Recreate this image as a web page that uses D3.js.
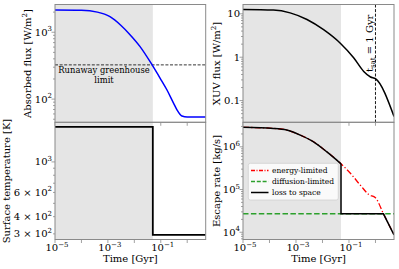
<!DOCTYPE html>
<meta charset="utf-8">
<script src="https://cdn.jsdelivr.net/npm/d3@7"></script>
<style>
body { margin: 0; background: #fff; }
text { font-family: "DejaVu Serif", serif; fill: #000; }
.spine { fill: none; stroke: #8a8a8a; stroke-width: 1; }
.tick { stroke: #8a8a8a; stroke-width: 0.8; }
</style>
<body>
<script>

// data
var timeDomain = [1e-5, 5];
var shadeEnd = 0.05;      // Gyr, grey region end
var tSat = 1;             // Gyr
var runawayLimit = 325;   // W/m2
var diffLimit = 2.7e4;    // kg/s

var fluxT    = [1e-5, 1e-4, 4e-4, 1.2e-3, 3e-3, 7e-3, 0.0165, 0.047, 0.095, 0.17, 0.3, 0.41, 0.63, 1.0, 5];
var fluxVals = [2150, 2130, 2000, 1710, 1285, 912, 610, 325, 205, 138, 88, 69, 56, 54, 54];

var xuvT    = [1e-5, 1.4e-4, 6e-4, 2.6e-3, 0.011, 0.047, 0.15, 0.36, 0.65, 1, 5];
var xuvVals = [12.6, 12.2, 10.5, 7.4, 4.3, 2.1, 0.97, 0.47, 0.35, 0.32, 0.043];

var tempT    = [1e-5, 0.05, 0.05, 5];
var tempVals = [1800, 1800, 295, 295];

var energyT    = [1e-5, 1.4e-4, 4.5e-4, 1.45e-3, 4.6e-3, 0.0147, 0.05, 0.113, 0.27, 0.56, 1, 2, 5];
var energyVals = [2.86e6, 2.7e6, 2.47e6, 1.88e6, 1.31e6, 7.6e5, 4.0e5, 2.4e5, 1.26e5, 7.6e4, 6.4e4, 2.7e4, 8.7e3];

var lossT    = [1e-5, 1.4e-4, 4.5e-4, 1.45e-3, 4.6e-3, 0.0147, 0.05, 0.05, 2, 5];
var lossVals = [2.86e6, 2.7e6, 2.47e6, 1.88e6, 1.31e6, 7.6e5, 4.0e5, 2.7e4, 2.7e4, 8.7e3];

var xTickLabels = [-5, -3, -1];

var width = 399, height = 269;

var svg = d3.select("body").append("svg")
    .attr("width", width)
    .attr("height", height);

var panels = {
  tl: {x0: 55,  x1: 205.7, y0: 4.5,   y1: 122.3, ydom: [45, 2600]},
  bl: {x0: 55,  x1: 205.7, y0: 122.3, y1: 239.5, ydom: [273, 1940]},
  tr: {x0: 243, x1: 394,   y0: 4.5,   y1: 122.3, ydom: [0.0316, 16.4]},
  br: {x0: 243, x1: 394,   y0: 122.3, y1: 239.5, ydom: [6760, 3.75e6]}
};

function zip(a, b) { return a.map(function(v, i) { return [v, b[i]]; }); }

// superscript helper: "10" + sup
function supText(g, x, y, base, sup, anchor, size) {
  var t = g.append("text")
      .attr("x", x).attr("y", y)
      .attr("text-anchor", anchor)
      .style("font-size", size + "px");
  t.append("tspan").text(base);
  t.append("tspan").attr("dy", -size * 0.45).style("font-size", (size * 0.7) + "px").text(sup);
  return t;
}

Object.keys(panels).forEach(function(k) {
  var p = panels[k];
  p.x = d3.scaleLog().domain(timeDomain).range([p.x0, p.x1]);
  p.y = d3.scaleLog().domain(p.ydom).range([p.y1, p.y0]);
  p.g = svg.append("g");
  svg.append("clipPath").attr("id", "clip-" + k)
    .append("rect").attr("x", p.x0).attr("y", p.y0)
    .attr("width", p.x1 - p.x0).attr("height", p.y1 - p.y0);
  // grey shaded epoch
  p.g.append("rect")
      .attr("x", p.x(timeDomain[0]))
      .attr("y", p.y0)
      .attr("width", p.x(shadeEnd) - p.x(timeDomain[0]))
      .attr("height", p.y1 - p.y0)
      .attr("fill", "#e5e5e5");
  p.plot = p.g.append("g").attr("clip-path", "url(#clip-" + k + ")");

  // y ticks (log major + minor)
  var lo = Math.floor(Math.log10(p.ydom[0])), hi = Math.ceil(Math.log10(p.ydom[1]));
  for (var e = lo; e <= hi; e++) {
    for (var m = 1; m < 10; m++) {
      var v = m * Math.pow(10, e);
      if (v < p.ydom[0] || v > p.ydom[1]) continue;
      var len = m == 1 ? 3.5 : 2;
      p.g.append("line").attr("class", "tick")
          .attr("x1", p.x0 - len).attr("x2", p.x0)
          .attr("y1", p.y(v)).attr("y2", p.y(v));
    }
  }
  // x ticks
  for (var e2 = -5; e2 <= 0; e2++) {
    var tv = Math.pow(10, e2);
    p.g.append("line").attr("class", "tick")
        .attr("x1", p.x(tv)).attr("x2", p.x(tv))
        .attr("y1", p.y1).attr("y2", p.y1 + 3.5);
  }
});

function lineIn(p, pts, curve) {
  return d3.line()
      .x(function(d) { return p.x(d[0]); })
      .y(function(d) { return p.y(d[1]); })
      .curve(curve || d3.curveMonotoneX)(pts);
}

// ---- top left: absorbed flux
var tl = panels.tl;
tl.plot.append("line")
    .attr("x1", tl.x0).attr("x2", tl.x1)
    .attr("y1", tl.y(runawayLimit)).attr("y2", tl.y(runawayLimit))
    .attr("stroke", "#000").attr("stroke-width", 0.8)
    .attr("stroke-dasharray", "3,1.6");
tl.plot.append("path")
    .attr("d", lineIn(tl, zip(fluxT, fluxVals)))
    .attr("fill", "none").attr("stroke", "#0000ff").attr("stroke-width", 1.5);
tl.g.append("text").attr("x", 104).attr("y", 72.5)
    .attr("text-anchor", "middle").style("font-size", "8.4px")
    .text("Runaway greenhouse");
tl.g.append("text").attr("x", 104).attr("y", 82.5)
    .attr("text-anchor", "middle").style("font-size", "8.4px")
    .text("limit");

// ---- bottom left: surface temperature
var bl = panels.bl;
bl.plot.append("path")
    .attr("d", lineIn(bl, zip(tempT, tempVals), d3.curveLinear))
    .attr("fill", "none").attr("stroke", "#000").attr("stroke-width", 1.8);

// ---- top right: XUV flux
var tr = panels.tr;
tr.plot.append("line")
    .attr("x1", tr.x(tSat)).attr("x2", tr.x(tSat))
    .attr("y1", tr.y0).attr("y2", tr.y1)
    .attr("stroke", "#000").attr("stroke-width", 0.9)
    .attr("stroke-dasharray", "3,1.6");
tr.plot.append("path")
    .attr("d", lineIn(tr, zip(xuvT, xuvVals)))
    .attr("fill", "none").attr("stroke", "#000").attr("stroke-width", 1.5);
var ts = tr.g.append("text")
    .attr("transform", "translate(" + (tr.x(tSat) - 2.5) + ",72) rotate(-90)")
    .attr("text-anchor", "start").style("font-size", "10px");
ts.append("tspan").text("t");
ts.append("tspan").attr("dy", 2.5).style("font-size", "7px").text("sat");
ts.append("tspan").attr("dy", -2.5).text(" = 1 Gyr");

// ---- bottom right: escape rate
var br = panels.br;
br.plot.append("path")
    .attr("d", lineIn(br, zip(energyT, energyVals)))
    .attr("fill", "none").attr("stroke", "#ff0000").attr("stroke-width", 1.3)
    .attr("stroke-dasharray", "6,2.2,1.3,2.2");
br.plot.append("line")
    .attr("x1", br.x0).attr("x2", br.x1)
    .attr("y1", br.y(diffLimit)).attr("y2", br.y(diffLimit))
    .attr("stroke", "#2ca02c").attr("stroke-width", 1.5)
    .attr("stroke-dasharray", "5.5,2.4");
var lossPts = zip(lossT, lossVals);
br.plot.append("path")
    .attr("d", lineIn(br, lossPts.slice(0, 7)))
    .attr("fill", "none").attr("stroke", "#000").attr("stroke-width", 1.5);
br.plot.append("path")
    .attr("d", lineIn(br, lossPts.slice(6), d3.curveLinear))
    .attr("fill", "none").attr("stroke", "#000").attr("stroke-width", 1.5);

// legend
var leg = svg.append("g");
leg.append("rect")
    .attr("x", 248.3).attr("y", 163.3).attr("width", 90).attr("height", 36.7)
    .attr("rx", 2).attr("fill", "#fff").attr("fill-opacity", 0.8)
    .attr("stroke", "#d0d0d0").attr("stroke-width", 0.8);
var legItems = [
  {label: "energy-limited", color: "#ff0000", dash: "4,1.5,1,1.5"},
  {label: "diffusion-limited", color: "#2ca02c", dash: "4,1.8"},
  {label: "loss to space", color: "#000", dash: null}
];
legItems.forEach(function(d, i) {
  var y = 170.5 + i * 11;
  leg.append("line")
      .attr("x1", 251).attr("x2", 268.5).attr("y1", y).attr("y2", y)
      .attr("stroke", d.color).attr("stroke-width", 1.5)
      .attr("stroke-dasharray", d.dash);
  leg.append("text").attr("x", 272).attr("y", y + 2.6)
      .style("font-size", "7.5px").text(d.label);
});

// spines on top
Object.keys(panels).forEach(function(k) {
  var p = panels[k];
  svg.append("rect").attr("class", "spine")
      .attr("x", p.x0).attr("y", p.y0)
      .attr("width", p.x1 - p.x0).attr("height", p.y1 - p.y0);
});

// tick labels
var tickSize = 10;
supText(svg, 52, tl.y(1000) + 3.5, "10", "3", "end", tickSize);
supText(svg, 52, tl.y(100) + 3.5, "10", "2", "end", tickSize);

supText(svg, 52, bl.y(1000) + 3.5, "10", "3", "end", tickSize);
supText(svg, 52, bl.y(600) + 3.5, "6 \u00d7 10", "2", "end", tickSize);
supText(svg, 52, bl.y(400) + 3.5, "4 \u00d7 10", "2", "end", tickSize);
supText(svg, 52, bl.y(300) + 3.5, "3 \u00d7 10", "2", "end", tickSize);

[[10, "10"], [1, "1"], [0.1, "0.1"]].forEach(function(d) {
  svg.append("text").attr("x", 240).attr("y", tr.y(d[0]) + 3.5)
      .attr("text-anchor", "end").style("font-size", tickSize + "px").text(d[1]);
});
[4, 5, 6].forEach(function(e) {
  supText(svg, 240, br.y(Math.pow(10, e)) + 3.5, "10", String(e), "end", tickSize);
});

[bl, br].forEach(function(p) {
  xTickLabels.forEach(function(e) {
    supText(svg, p.x(Math.pow(10, e)) + 2, 251, "10", "\u2212" + Math.abs(e), "middle", tickSize);
  });
  svg.append("text").attr("x", (p.x0 + p.x1) / 2).attr("y", 262)
      .attr("text-anchor", "middle").style("font-size", "10px").text("Time [Gyr]");
});

// axis labels
function yLabel(x, y, parts) {
  var t = svg.append("text")
      .attr("transform", "translate(" + x + "," + y + ") rotate(-90)")
      .attr("text-anchor", "middle").style("font-size", "10px");
  parts.forEach(function(s) {
    var sp = t.append("tspan").text(s[0]);
    if (s[1]) sp.attr("dy", s[1]).style("font-size", s[2] || "10px");
  });
}
yLabel(30.5, 63.5, [["Absorbed flux [W/m"], ["2", -4, "7px"], ["]", 4]]);
yLabel(10.3, 181, [["Surface temperature [K]"]]);
yLabel(220, 63.5, [["XUV flux [W/m"], ["2", -4, "7px"], ["]", 4]]);
yLabel(219.5, 181, [["Escape rate [kg/s]"]]);

</script>
</body>
</html>
